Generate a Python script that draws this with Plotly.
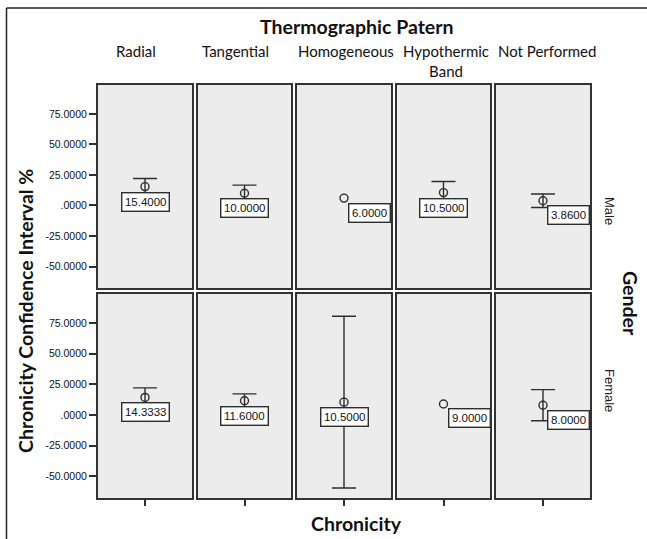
import plotly.graph_objects as go

W, H = 647, 539

# ---- data ----
patterns = ["Radial", "Tangential", "Homogeneous", "Hypothermic Band", "Not Performed"]
genders = ["Male", "Female"]
male_mean = [15.4, 10.0, 6.0, 10.5, 3.86]
male_lo = [8.8, 3.4, None, 1.4, -1.7]
male_hi = [22.0, 16.6, None, 19.6, 9.4]
female_mean = [14.3333, 11.6, 10.5, 9.0, 8.0]
female_lo = [6.6, 6.0, -59.5, None, -4.7]
female_hi = [22.1, 17.2, 80.5, None, 20.7]
y_tickvals = [75, 50, 25, 0, -25, -50]
y_ticktext = ["75.0000", "50.0000", "25.0000", ".0000", "-25.0000", "-50.0000"]

# ---- layout config (pixel geometry) ----
col_px = [(98, 192), (198, 291), (297, 391), (397, 490), (496, 590)]
row_px = [(85, 288), (294, 498)]
label_side = [["c", "c", "r", "c", "r"], ["c", "c", "c", "r", "r"]]
head_x = [136, 235, 346, 446, 547]
head_txt = ["Radial", "Tangential", "Homogeneous", "Hypothermic<br>Band", "Not Performed"]


def px(x):
    return x / W


def py(y):
    return 1 - y / H


DARK = "#2e2e2e"
TITLE_FONT = dict(family="Lato", size=19.5, color="#111")
fig = go.Figure()
means = [male_mean, female_mean]
los = [male_lo, female_lo]
his = [male_hi, female_hi]
annotations = []

for r in range(2):
    for c in range(5):
        i = r * 5 + c + 1
        xa = "x" if i == 1 else f"x{i}"
        ya = "y" if i == 1 else f"y{i}"
        m = means[r][c]
        lo, hi = los[r][c], his[r][c]
        err = None
        if lo is not None:
            err = dict(type="data", symmetric=False, array=[hi - m], arrayminus=[m - lo],
                       width=12, thickness=1.4, color=DARK)
        fig.add_trace(go.Scatter(
            x=[0], y=[m], mode="markers", xaxis=xa, yaxis=ya, showlegend=False,
            marker=dict(symbol="circle-open", size=8, color=DARK, line=dict(width=1.4, color=DARK)),
            error_y=err if err else dict(visible=False),
        ))
        side = label_side[r][c]
        ann = dict(x=0, y=m, xref=xa, yref=ya, text=f"{m:.4f}", showarrow=False,
                   font=dict(family="Liberation Sans", size=11.5, color="#111"),
                   bordercolor=DARK, borderwidth=1.4, borderpad=2.5, bgcolor="white",
                   yanchor="top")
        if side == "c":
            ann.update(xanchor="center", yshift=-5)
        else:
            ann.update(xanchor="left", xshift=4, yshift=-4.5)
        annotations.append(ann)

        x0, x1 = col_px[c]
        y0, y1 = row_px[r]
        xkey = "xaxis" if i == 1 else f"xaxis{i}"
        ykey = "yaxis" if i == 1 else f"yaxis{i}"
        xax = dict(domain=[px(x0), px(x1)], range=[-1, 1], anchor=ya, showgrid=False,
                   zeroline=False, showline=True, mirror=True, linecolor="#333",
                   linewidth=2, fixedrange=True)
        if r == 1:
            xax.update(tickvals=[0], ticktext=[""], ticks="outside", ticklen=6,
                       tickwidth=1.5, tickcolor=DARK)
        else:
            xax.update(showticklabels=False, ticks="")
        yax = dict(domain=[py(y1), py(y0)], range=[-67.6, 98.6], anchor=xa, showgrid=False,
                   zeroline=False, showline=True, mirror=True, linecolor="#333",
                   linewidth=2)
        if c == 0:
            yax.update(tickvals=y_tickvals, ticktext=y_ticktext, ticks="outside", ticklen=7,
                       tickwidth=1.5, tickcolor=DARK,
                       tickfont=dict(family="Liberation Sans", size=10.5, color="#111"))
        else:
            yax.update(showticklabels=False, ticks="")
        fig.update_layout(**{xkey: xax, ykey: yax})

# column headings
for c in range(5):
    annotations.append(dict(x=px(head_x[c]), y=py(40), xref="paper", yref="paper",
                            text=head_txt[c], showarrow=False, xanchor="center", yanchor="top",
                            font=dict(family="Lato", size=15, color="#111")))
# top title
annotations.append(dict(x=px(357), y=py(27), xref="paper", yref="paper",
                        text="<b>Thermographic Patern</b>", showarrow=False,
                        xanchor="center", yanchor="middle", font=TITLE_FONT))
# row labels
for r, g in enumerate(genders):
    annotations.append(dict(x=px(610), y=py([211, 390][r]), xref="paper", yref="paper",
                            text=g, textangle=90, showarrow=False, xanchor="center",
                            yanchor="middle",
                            font=dict(family="Liberation Sans", size=13, color="#222")))
annotations.append(dict(x=px(631), y=py(303), xref="paper", yref="paper",
                        text="<b>Gender</b>", textangle=90, showarrow=False,
                        xanchor="center", yanchor="middle", font=TITLE_FONT))
annotations.append(dict(x=px(25), y=py(311), xref="paper", yref="paper",
                        text="<b>Chronicity Confidence Interval %</b>", textangle=-90,
                        showarrow=False, xanchor="center", yanchor="middle", font=TITLE_FONT))
annotations.append(dict(x=px(356), y=py(523), xref="paper", yref="paper",
                        text="<b>Chronicity</b>", showarrow=False,
                        xanchor="center", yanchor="middle", font=TITLE_FONT))

shapes = [
    dict(type="line", xref="paper", yref="paper", x0=px(6.5), y0=0, x1=px(6.5), y1=py(8),
         line=dict(color="#222", width=1.5)),
    dict(type="line", xref="paper", yref="paper", x0=px(6.5), y0=py(8), x1=1, y1=py(8),
         line=dict(color="#222", width=1.5)),
]

fig.update_layout(width=W, height=H, margin=dict(l=0, r=0, t=0, b=0),
                  paper_bgcolor="white", plot_bgcolor="#ececec",
                  annotations=annotations, shapes=shapes, showlegend=False)

fig.write_html("out.html")
